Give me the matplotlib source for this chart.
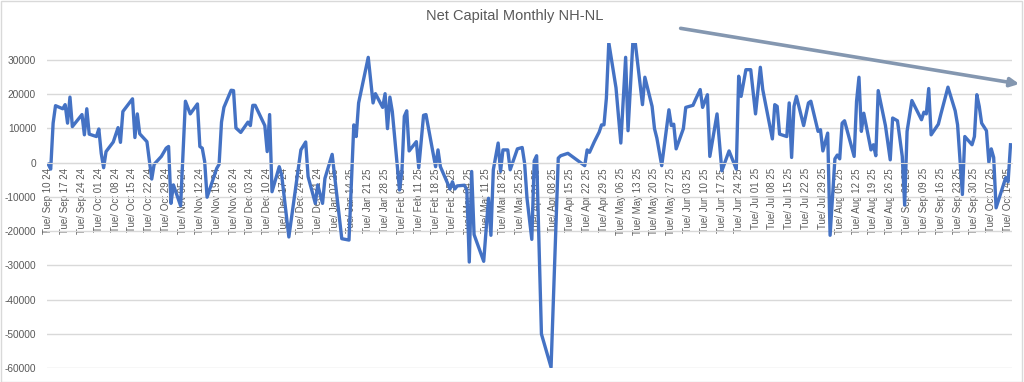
import matplotlib
matplotlib.use("Agg")
import matplotlib.pyplot as plt
import pandas as pd

plt.rcParams["font.family"] = ["Liberation Sans", "DejaVu Sans"]

# day index since Tue Sep 10 2024 (calendar days), and NH-NL value at that day
day_idx = [0, 1, 2, 3, 6, 7, 8, 9, 10, 14, 15, 16, 17, 20, 21, 22, 23, 24, 27, 29,
           30, 31, 35, 36, 37, 38, 41, 43, 44, 47, 49, 50, 51, 52, 55, 57, 59, 62, 63, 64,
           65, 66, 70, 71, 72, 73, 76, 77, 78, 80, 83, 84, 85, 86, 90, 91, 92, 93, 96, 97,
           100, 105, 107, 108, 111, 112, 114, 115, 118, 122, 125, 127, 128, 129, 133, 135, 136, 139, 140, 141,
           142, 143, 146, 147, 148, 149, 150, 153, 154, 156, 157, 161, 162, 163, 167, 168, 169, 170, 173, 174,
           175, 176, 177, 181, 183, 184, 185, 187, 188, 189, 191, 192, 195, 197, 198, 199, 201, 202, 203, 205,
           209, 212, 213, 216, 223, 224, 225, 227, 229, 230, 231, 232, 233, 236, 238, 240, 241, 243, 244, 247,
           248, 251, 252, 253, 255, 258, 259, 260, 261, 264, 265, 268, 269, 271, 272, 274, 275, 278, 280, 283,
           286, 287, 288, 290, 292, 294, 296, 297, 301, 302, 303, 304, 307, 308, 309, 310, 311, 314, 316, 317,
           320, 321, 322, 324, 325, 327, 328, 329, 330, 331, 335, 336, 337, 338, 339, 342, 343, 344, 345, 348,
           350, 351, 353, 355, 356, 357, 359, 363, 364, 365, 366, 367, 370, 371, 374, 377, 378, 380, 381, 384,
           385, 386, 387, 388, 390, 391, 392, 393, 394, 398, 399, 400]
nh_nl = [-500, -1900, 11500, 16600, 15700, 16900, 11500, 19100, 10500, 14000, 8100, 15700, 8300, 7600, 9800, 2700, -1500, 3200, 6000, 10200,
         5900, 14900, 18600, 7300, 14200, 8400, 6100, -4800, -500, 1800, 4200, 4700, -11900, -6500, -12600, 17900, 14200, 17100, 4700, 4200,
         300, -10100, -1700, -500, 11800, 16100, 21100, 21000, 10100, 8800, 11800, 10800, 16700, 16700, 10800, 3200, 14000, -8500, -1200, -3600,
         -21700, 3700, 6000, -4100, -11900, -6500, -11900, -4600, 2400, -22200, -22600, 11000, 7600, 17400, 30700, 17400, 20100, 16100, 20100, 9900,
         19100, 14900, -8000, -2600, 13500, 15100, 3400, 6100, -1500, 13800, 14000, -1200, 3700, -1200, -7700, -5600, -7700, -6800, -6600, -8000,
         -29000, -2600, -21000, -28800, -10400, -21200, -2100, 5700, -2600, 3700, 3700, -2100, 4000, 4400, -200, -10400, -22400, 500, 2000, -50000,
         -59700, 1300, 2000, 2700, -900, 3700, 3000, 6100, 8900, 11000, 11000, 18800, 35000, 21800, 5700, 30700, 9300, 35000, 35000, 16900,
         24900, 16400, 9900, 7100, -900, 15400, 10800, 11200, 4000, 9900, 16100, 16700, 18300, 21300, 16100, 19800, 1800, 14200, -2400, 3400,
         -1900, 25200, 19300, 27100, 27100, 14200, 27800, 21300, 6900, 16900, 16400, 8300, 7600, 17400, 1500, 16400, 19300, 10800, 17400, 17900,
         9100, 9600, 3400, 8600, -21200, 1100, 2200, 1100, 11500, 12200, 1800, 17900, 24900, 9100, 14400, 3700, 5200, 2000, 21000, 10800,
         800, 13000, 12200, 1800, -12400, 9100, 18100, 12500, 14700, 14200, 21600, 8100, 11200, 14000, 22000, 15100, 11000, -9300, 7600, 5200,
         7600, 19800, 16400, 11500, 9300, 100, 4000, 1500, -13200, -4400, -5600, 5200]

# weekly category labels (every 7th day)
tick_dates = pd.date_range("2024-09-10", "2025-10-14", freq="7D")
tick_labels = [d.strftime("%a/ %b %d %y") for d in tick_dates]
tick_idx = [(d - tick_dates[0]).days for d in tick_dates]

y_ticks = list(range(-60000, 30001, 10000))

fig = plt.figure(figsize=(10.24, 3.82), dpi=100)
ax = fig.add_axes([0.046, 0.0359, 0.942, 0.8526])

ax.plot(day_idx, nh_nl, color="#4472C4", lw=2.4, solid_joinstyle="round")

ax.set_xlim(-0.5, 400.5)
ax.set_ylim(-60000, 35000)
ax.set_yticks(y_ticks)
ax.set_yticklabels([str(v) for v in y_ticks])
ax.set_xticks(tick_idx)
ax.set_xticklabels(tick_labels)
ax.grid(axis="y", color="#d9d9d9", lw=1)
ax.set_axisbelow(True)

for s in ["top", "right", "left"]:
    ax.spines[s].set_visible(False)
ax.spines["bottom"].set_position(("data", 0))
ax.spines["bottom"].set_color("#d9d9d9")
ax.tick_params(axis="both", length=0, labelsize=7.3, labelcolor="#595959")
ax.tick_params(axis="x", pad=4, labelrotation=90, labelsize=7)
ax.tick_params(axis="y", pad=8)

fig.text(0.503, 0.958, "Net Capital Monthly NH-NL", ha="center", va="center",
         fontsize=10.5, color="#595959")

# hand drawn trend arrow
fig.add_artist(matplotlib.patches.FancyArrowPatch(
    (0.662, 0.927), (0.998, 0.779), transform=fig.transFigure,
    arrowstyle="-|>", mutation_scale=13, color="#8497B0", lw=2.6))

# chart border
fig.add_artist(matplotlib.patches.Rectangle((0.0005, 0.001), 0.998, 0.997,
               transform=fig.transFigure, fill=False, ec="#d9d9d9", lw=1))

fig.savefig("out.png", dpi=100)
